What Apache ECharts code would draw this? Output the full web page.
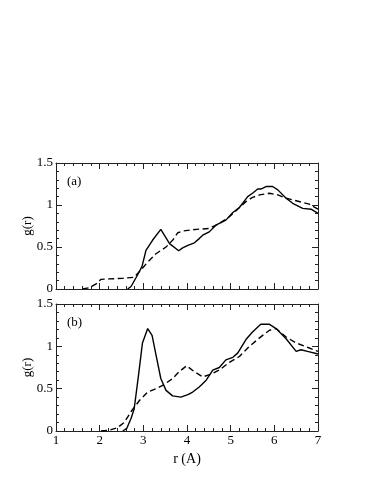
<!DOCTYPE html>
<html lang="en">
<head>
    <meta charset="UTF-8">
    <title>g(r)</title>
    <style type="text/css">
        html, body { margin: 0; padding: 0; background: #fff; }
        #chart { width: 374px; height: 484px; }
    </style>
    <script src="https://cdn.jsdelivr.net/npm/echarts@6/dist/echarts.min.js"></script>
</head>
<body>
<div id="chart"></div>
<script type="application/javascript">
    // panel (a), solid curve
    var rA1 = [2.64, 2.72, 2.87, 2.97, 3.06, 3.21, 3.40, 3.60, 3.81, 3.90, 4.02, 4.17, 4.28, 4.36, 4.51, 4.66, 4.89, 5.05, 5.20, 5.39, 5.50, 5.62, 5.69, 5.81, 5.96, 6.08, 6.27, 6.42, 6.65, 6.84, 7.00];
    var gA1 = [0, 0.03, 0.17, 0.27, 0.46, 0.58, 0.71, 0.54, 0.455, 0.49, 0.52, 0.55, 0.60, 0.64, 0.68, 0.76, 0.82, 0.91, 0.97, 1.10, 1.14, 1.19, 1.19, 1.22, 1.22, 1.18, 1.08, 1.02, 0.96, 0.95, 0.90];
    // panel (a), dashed curve
    var rA2 = [1.61, 1.76, 1.92, 2.03, 2.22, 2.53, 2.79, 2.95, 3.10, 3.29, 3.52, 3.67, 3.79, 3.90, 4.21, 4.51, 4.74, 4.97, 5.16, 5.35, 5.50, 5.66, 5.89, 6.08, 6.27, 6.50, 6.80, 7.00];
    var gA2 = [0, 0.015, 0.06, 0.115, 0.12, 0.127, 0.14, 0.23, 0.32, 0.42, 0.50, 0.58, 0.67, 0.69, 0.71, 0.72, 0.78, 0.86, 0.95, 1.04, 1.09, 1.12, 1.14, 1.12, 1.08, 1.05, 1.01, 0.95];
    // panel (b), solid curve
    var rB1 = [2.53, 2.62, 2.72, 2.79, 2.89, 2.98, 3.10, 3.20, 3.29, 3.40, 3.52, 3.67, 3.86, 4.02, 4.13, 4.28, 4.44, 4.59, 4.74, 4.89, 5.05, 5.16, 5.35, 5.50, 5.69, 5.89, 6.04, 6.27, 6.50, 6.61, 6.76, 7.00];
    var gB1 = [0, 0.03, 0.15, 0.26, 0.66, 1.04, 1.21, 1.13, 0.90, 0.62, 0.48, 0.415, 0.40, 0.43, 0.46, 0.52, 0.60, 0.72, 0.75, 0.84, 0.87, 0.92, 1.08, 1.17, 1.26, 1.26, 1.21, 1.09, 0.94, 0.96, 0.94, 0.91];
    // panel (b), dashed curve
    var rB2 = [2.03, 2.22, 2.41, 2.56, 2.72, 2.91, 3.10, 3.29, 3.48, 3.67, 3.82, 3.99, 4.17, 4.36, 4.55, 4.74, 4.97, 5.20, 5.43, 5.66, 5.89, 6.04, 6.27, 6.50, 6.80, 7.00];
    var gB2 = [0, 0.01, 0.04, 0.10, 0.23, 0.36, 0.46, 0.50, 0.55, 0.62, 0.70, 0.77, 0.70, 0.64, 0.67, 0.72, 0.81, 0.88, 1.00, 1.10, 1.19, 1.21, 1.11, 1.04, 0.98, 0.94];

    var panelLabels = ['(a)', '(b)'];
    var xName = 'r (A)';
    var yName = 'g(r)';

    function pairs(xs, ys) {
        return xs.map(function (x, i) { return [x, ys[i]]; });
    }

    var font = 'Liberation Serif';
    var frame = '#222';

    function xAxisFor(grid, pos, showLabels, name) {
        return {
            type: 'value', gridIndex: grid, position: pos,
            min: 1, max: 7, interval: 1,
            name: name, nameLocation: 'middle', nameGap: 21,
            nameTextStyle: { fontFamily: font, fontSize: 14, color: '#000' },
            axisLine: { show: true, onZero: false, lineStyle: { color: frame, width: 1 } },
            axisTick: { show: true, inside: true, length: 6, lineStyle: { color: frame } },
            minorTick: { show: true, splitNumber: 5, length: 3, lineStyle: { color: frame } },
            axisLabel: { show: showLabels, margin: 3, fontFamily: font, fontSize: 13, color: '#000' },
            splitLine: { show: false }
        };
    }

    function yAxisFor(grid, pos, showLabels, name) {
        return {
            type: 'value', gridIndex: grid, position: pos,
            min: 0, max: 1.5, interval: 0.5,
            name: name, nameLocation: 'middle', nameGap: 22, nameMoveOverlap: false,
            nameTextStyle: { fontFamily: font, fontSize: 13, color: '#000' },
            axisLine: { show: true, onZero: false, lineStyle: { color: frame, width: 1 } },
            axisTick: { show: true, inside: true, length: 6, lineStyle: { color: frame } },
            minorTick: { show: true, splitNumber: 5, length: 3, lineStyle: { color: frame } },
            axisLabel: { show: showLabels, margin: 3, fontFamily: font, fontSize: 13, color: '#000' },
            splitLine: { show: false }
        };
    }

    function line(xi, yi, data, dashed) {
        return {
            type: 'line', xAxisIndex: xi, yAxisIndex: yi,
            data: data, symbol: 'none', silent: true,
            lineStyle: { color: '#000', width: 1.4, type: dashed ? [6, 3.5] : 'solid' }
        };
    }

    var chart = echarts.init(document.getElementById('chart'));
    chart.setOption({
        animation: false,
        title: [
            { text: panelLabels[0], left: 62, top: 170, textStyle: { fontFamily: font, fontSize: 13, fontWeight: 'normal', color: '#000' } },
            { text: panelLabels[1], left: 62, top: 311, textStyle: { fontFamily: font, fontSize: 13, fontWeight: 'normal', color: '#000' } }
        ],
        grid: [
            { left: 56, right: 56, top: 163, bottom: 195 },
            { left: 56, right: 56, top: 304, bottom: 53 }
        ],
        xAxis: [
            xAxisFor(0, 'bottom', false, ''),
            xAxisFor(0, 'top', false, ''),
            xAxisFor(1, 'bottom', true, xName),
            xAxisFor(1, 'top', false, '')
        ],
        yAxis: [
            yAxisFor(0, 'left', true, yName),
            yAxisFor(0, 'right', false, ''),
            yAxisFor(1, 'left', true, yName),
            yAxisFor(1, 'right', false, '')
        ],
        series: [
            line(0, 0, pairs(rA1, gA1), false),
            line(0, 0, pairs(rA2, gA2), true),
            line(2, 2, pairs(rB1, gB1), false),
            line(2, 2, pairs(rB2, gB2), true)
        ]
    });
</script>
</body>
</html>
